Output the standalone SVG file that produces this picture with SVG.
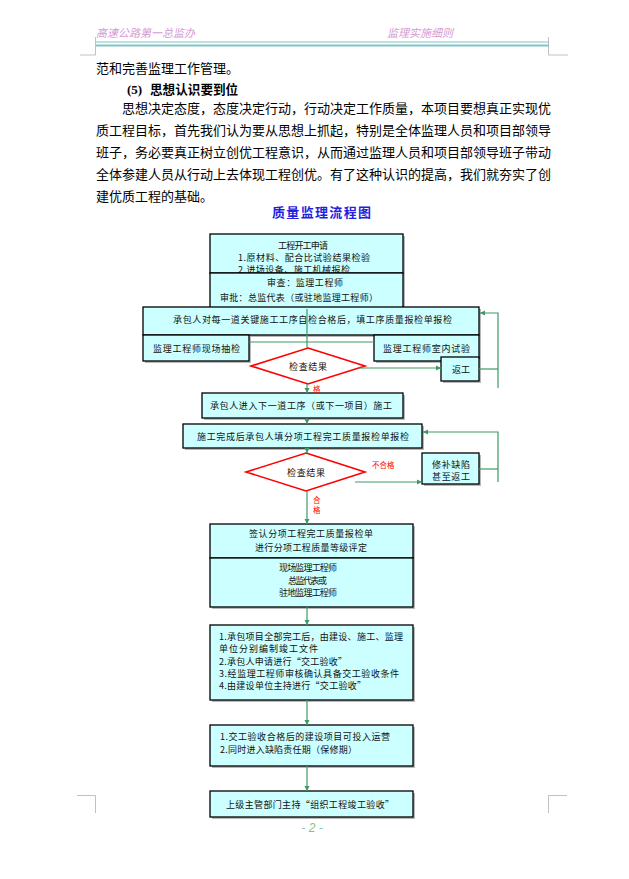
<svg xmlns="http://www.w3.org/2000/svg" width="629" height="879" viewBox="0 0 629 879">
<style>
.hdr{font-family:"Noto Sans CJK SC",sans-serif;font-size:11px;font-style:italic;fill:#d49ad4}
.body{font-family:"Noto Sans CJK SC",sans-serif;font-size:13px;fill:#000}
.title{font-family:"Noto Sans CJK SC",sans-serif;font-size:13px;font-weight:bold;fill:#1f1fe0;letter-spacing:2px}
.box{fill:#ccffff;stroke:#000;stroke-width:1.3}
.shadow{fill:#b8b8b8}
.dia{fill:#fff;stroke:#ff0000;stroke-width:1.6}
.t{font-family:"Noto Sans CJK SC",sans-serif;font-size:9px;fill:#111;dominant-baseline:central}
.c{text-anchor:middle}
.red{font-family:"Noto Sans CJK SC",sans-serif;font-size:7.5px;fill:#ff0000;dominant-baseline:central}
.conn{fill:none;stroke:#3c9a68;stroke-width:1.2}
.mark{stroke:#c0c0c0;stroke-width:1;fill:none}
</style>
<defs>
<marker id="arr" markerWidth="6" markerHeight="6" refX="5" refY="3" orient="auto" markerUnits="userSpaceOnUse">
<path d="M0,0.5 L5,3 L0,5.5 z" fill="#3c9a68"/>
</marker>
</defs>
<rect width="629" height="879" fill="#fff"/>
<g id="page">
<path class="mark" d="M80 55H95.5V37 M568 55H548.5V37 M77 795.5H95.5V813 M567 795.5H548.5V813"/>
<text class="hdr" x="96" y="37">高速公路第一总监办</text>
<text class="hdr" x="387" y="37">监理实施细则</text>
<line x1="96" y1="42" x2="549" y2="42" stroke="#80c4c4" stroke-width="1"/>
<line x1="96" y1="45.5" x2="549" y2="45.5" stroke="#80c4c4" stroke-width="2.2"/>
<text class="body" x="96" y="73">范和完善监理工作管理。</text>
<text x="127" y="94" font-family="Liberation Serif,serif" font-size="13" font-weight="bold">(5)</text>
<text x="150" y="94" font-family="Noto Sans CJK SC,sans-serif" font-size="12.6" font-weight="bold">思想认识要到位</text>
<text class="body" x="122" y="113" textLength="429" lengthAdjust="spacing">思想决定态度，态度决定行动，行动决定工作质量，本项目要想真正实现优</text>
<text class="body" x="96" y="135" textLength="455" lengthAdjust="spacing">质工程目标，首先我们认为要从思想上抓起，特别是全体监理人员和项目部领导</text>
<text class="body" x="96" y="157" textLength="455" lengthAdjust="spacing">班子，务必要真正树立创优工程意识，从而通过监理人员和项目部领导班子带动</text>
<text class="body" x="96" y="179" textLength="455" lengthAdjust="spacing">全体参建人员从行动上去体现工程创优。有了这种认识的提高，我们就夯实了创</text>
<text class="body" x="96" y="201">建优质工程的基础。</text>
<text class="title" x="272" y="217" textLength="101" lengthAdjust="spacing">质量监理流程图</text>
<text x="312" y="832" font-family="Liberation Sans,sans-serif" font-size="12" font-style="italic" text-anchor="middle"><tspan fill="#8cc0c0">- </tspan><tspan fill="#8cc070">2</tspan><tspan fill="#8cc0c0"> -</tspan></text>
</g>
<g id="n1">
<rect class="shadow" x="212" y="236" width="193" height="39"/>
<rect class="box" x="210" y="234" width="193" height="39"/>
<text class="t" x="278" y="245" textLength="50">工程开工申请</text>
<text class="t" x="238" y="257" textLength="132" font-size="8.6">1.原材料、配合比试验结果检验</text>
<text class="t" x="238" y="269.5" textLength="112" font-size="8.6">2.进场设备、施工机械报检</text>
</g>
<g id="n2">
<rect class="shadow" x="212" y="275" width="193" height="35"/>
<rect class="box" x="210" y="273" width="193" height="36"/>
<text class="t" x="267" y="282" textLength="76">审查：监理工程师</text>
<text class="t" x="220" y="297" textLength="158">审批：总监代表（或驻地监理工程师）</text>
</g>
<g id="n3">
<rect class="shadow" x="145" y="309" width="336" height="28"/>
<rect class="box" x="143" y="307" width="336" height="28"/>
<text class="t" x="173" y="319" textLength="279">承包人对每一道关键施工工序自检合格后，填工序质量报检单报检</text>
</g>
<g id="n4">
<rect class="shadow" x="145" y="337" width="106" height="26"/>
<rect class="box" x="143" y="335" width="106" height="26"/>
<text class="t" x="153" y="348" textLength="87">监理工程师现场抽检</text>
</g>
<g id="n5">
<rect class="shadow" x="376" y="337" width="105" height="26"/>
<rect class="box" x="374" y="335" width="105" height="26"/>
<text class="t" x="383" y="348" textLength="87">监理工程师室内试验</text>
</g>
<g id="n6">
<rect class="shadow" x="443" y="359" width="38" height="24"/>
<rect class="box" x="441" y="357" width="38" height="24"/>
<text class="t" x="452" y="369" textLength="18">返工</text>
</g>
<g id="d1">
<polygon class="dia" points="308,348 365,366 308,384 251,366"/>
<text class="t" x="289" y="366" textLength="38">检查结果</text>
</g>
<g id="n7">
<rect class="shadow" x="204" y="395" width="201" height="25"/>
<rect class="box" x="202" y="393" width="201" height="25"/>
<text class="t" x="210" y="405" textLength="182">承包人进入下一道工序（或下一项目）施工</text>
</g>
<g id="n8">
<rect class="shadow" x="185" y="426" width="239" height="24"/>
<rect class="box" x="183" y="424" width="239" height="24"/>
<text class="t" x="197" y="436" textLength="212">施工完成后承包人填分项工程完工质量报检单报检</text>
</g>
<g id="d2">
<polygon class="dia" points="306,453 365,472 306,491 246,472"/>
<text class="t" x="287" y="472" textLength="38">检查结果</text>
</g>
<g id="n9">
<rect class="shadow" x="424" y="455" width="57" height="31"/>
<rect class="box" x="422" y="453" width="57" height="31"/>
<text class="t" x="432" y="464" textLength="38">修补缺陷</text>
<text class="t" x="432" y="476" textLength="38">甚至返工</text>
</g>
<g id="n10">
<rect class="shadow" x="212" y="526" width="203" height="83"/>
<rect class="box" x="210" y="524" width="203" height="34"/>
<text class="t" x="249" y="533" textLength="124">签认分项工程完工质量报检单</text>
<text class="t" x="255" y="547" textLength="112">进行分项工程质量等级评定</text>
</g>
<g id="n11">
<rect class="box" x="210" y="558" width="203" height="49"/>
<text class="t" x="279" y="567" textLength="58">现场监理工程师</text>
<text class="t" x="288" y="580" textLength="39">总监代表或</text>
<text class="t" x="279" y="592" textLength="58">驻地监理工程师</text>
</g>
<g id="n12">
<rect class="shadow" x="212" y="627" width="203" height="75"/>
<rect class="box" x="210" y="625" width="203" height="75"/>
<text class="t" x="219" y="636" textLength="184">1.承包项目全部完工后，由建设、施工、监理</text>
<text class="t" x="219" y="648" textLength="99">单位分别编制竣工文件</text>
<text class="t" x="219" y="661" textLength="128">2.承包人申请进行“交工验收”</text>
<text class="t" x="219" y="673" textLength="180">3.经监理工程师审核确认具备交工验收条件</text>
<text class="t" x="219" y="685" textLength="147">4.由建设单位主持进行“交工验收”</text>
</g>
<g id="n13">
<rect class="shadow" x="212" y="727" width="203" height="41"/>
<rect class="box" x="210" y="725" width="203" height="41"/>
<text class="t" x="220" y="736" textLength="170">1.交工验收合格后的建设项目可投入运营</text>
<text class="t" x="220" y="749" textLength="137">2.同时进入缺陷责任期（保修期）</text>
</g>
<g id="n14">
<rect class="shadow" x="212" y="793" width="203" height="26"/>
<rect class="box" x="210" y="791" width="203" height="26"/>
<text class="t" x="226" y="804" textLength="168">上级主管部门主持“组织工程竣工验收”</text>
</g>
<g id="connectors">
<path class="conn" d="M307 309V348"/>
<path class="conn" d="M307 384V393" marker-end="url(#arr)"/>
<path class="conn" d="M249 342H374"/>
<path class="conn" d="M358 368H441" marker-end="url(#arr)"/>
<path class="conn" d="M479 369H498"/>
<path class="conn" d="M498 388V313H480" marker-end="url(#arr)"/>
<path class="conn" d="M307 418V424" marker-end="url(#arr)"/>
<path class="conn" d="M307 448V453" marker-end="url(#arr)"/>
<path class="conn" d="M355 482H422" marker-end="url(#arr)"/>
<path class="conn" d="M479 469H498"/>
<path class="conn" d="M498 482V432H423" marker-end="url(#arr)"/>
<path class="conn" d="M307 491V524" marker-end="url(#arr)"/>
<path class="conn" d="M307 607V625" marker-end="url(#arr)"/>
<path class="conn" d="M307 700V725" marker-end="url(#arr)"/>
<path class="conn" d="M307 766V791" marker-end="url(#arr)"/>
<text class="red" x="313" y="388">格</text>
<text class="red" x="372" y="464">不合格</text>
<text class="red" x="313" y="499" font-size="7">合</text>
<text class="red" x="313" y="509" font-size="7">格</text>
</g>
</svg>
